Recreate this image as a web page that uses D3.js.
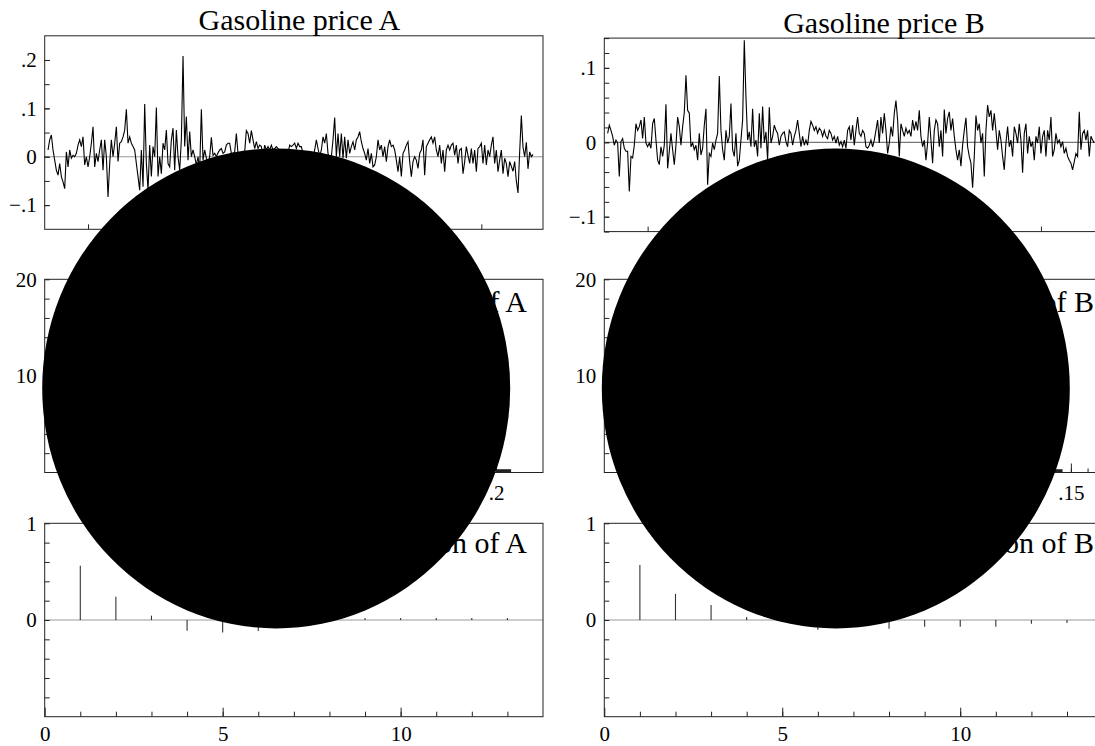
<!DOCTYPE html>
<html lang="en">
  <head>
    <meta charset="utf-8">
    <title>Gasoline prices</title>
    <style>
      body, html { margin:0; padding:0; background:#fff; }
      svg { display:block; }
    </style>
    <script src="https://cdn.jsdelivr.net/npm/d3@7"></script>
  </head>
  <body>
    <div id="chart"></div>
    <script>
// ---- data ----
var priceA = [
  0.014, 0.035, 0.045, 0.014, -0.007, -0.028, -0.038, -0.014, -0.041, -0.052,
  -0.066, 0.010, -0.021, 0.014, -0.003, 0.003, 0, 0.007, 0.024, 0.035,
  0.021, 0.041, -0.017, 0, -0.021, 0, 0.028, 0.062, -0.021, 0.007,
  -0.010, 0.014, 0.035, -0.028, 0.035, 0, -0.083, -0.014, 0.035, 0,
  0.028, 0.062, -0.010, 0.028, 0.031, 0.041, 0.055, 0.098, 0.028, 0.041,
  0.028, 0.021, 0.014, -0.014, -0.041, -0.069, 0.014, -0.062, 0.109, -0.014,
  -0.069, 0.024, -0.041, 0.021, 0, 0.102, -0.041, 0, -0.035, 0.028,
  0.014, 0.055, -0.014, -0.021, 0.035, 0.059, -0.028, 0.055, 0, -0.028,
  0.035, 0.208, 0.021, 0.083, -0.007, 0.052, 0, 0.014, 0, -0.017,
  0, -0.028, 0.098, -0.007, 0.014, -0.003, -0.014, 0, 0.040, 0.003,
  0.007, 0, 0.008, 0.014, 0.017, 0.007, 0.010, 0.024, 0.028, 0.028,
  0.007, 0.007, 0.010, 0.048, 0.007, -0.028, 0.010, 0, 0.010, 0.054,
  0.048, 0.028, 0.054, 0.035, 0.017, 0.031, 0.017, 0.024, 0.021, 0,
  0.024, 0.014, 0.021, 0.014, 0.024, 0.014, 0.017, 0.021,
  0.017, 0.007, 0, -0.007, 0.014, 0, 0.007, 0.024, 0.021, 0.024,
  0.028, 0.017, 0.028, 0.021, 0.021, 0.007, 0, -0.007, 0.007, -0.014,
  0.010, 0, 0.014, 0.035, 0.017, 0, 0.014, 0.041, 0.028, 0.048,
  0.007, -0.010, 0, 0.035, 0.081, 0, 0.048, 0, 0.048, -0.003,
  0.041, -0.003, 0.035, 0.007, 0.021, 0.031, 0.014, 0.035, 0.041, 0.052,
  0.031, 0.017, 0.007, -0.007, 0.017, -0.014, 0.007, -0.021, -0.017, 0,
  0.035, 0.014, 0.024, 0, 0.021, -0.010, 0.021, 0.035, 0.021, 0.024,
  0.014, -0.007, -0.031, 0, -0.041, 0.007, 0.014, 0.024, 0.031, -0.010,
  -0.041, -0.010, 0, -0.007, -0.024, 0.007, 0.014, 0.035, -0.038, 0.021,
  0.028, 0.035, 0.041, 0.028, 0.041, 0.014, 0, 0.024, -0.014, 0.014,
  -0.031, 0.014, 0.024, 0.014, 0.024, 0.028, 0.003, 0.024, -0.014, 0.014,
  0.017, -0.035, -0.010, 0.021, 0.003, -0.014, 0.017, -0.014, 0.014, -0.031,
  0.017, 0.021, 0.028, -0.014, 0.024, -0.017, 0.014, 0, 0.024, 0.041,
  -0.014, 0.014, -0.031, -0.007, 0.014, -0.035, -0.003, -0.014, -0.041, -0.010,
  -0.020, -0.030, -0.010, -0.050, -0.075, 0.010, 0.085, 0.020, 0, 0.030,
  -0.025, 0.010, 0, 0.005
];
var priceB = [
  0.012, 0.023, 0.016, 0.008, -0.004, 0.003, -0.001, -0.046, 0.001, 0.005,
  -0.008, -0.012, -0.012, -0.066, -0.019, -0.021, -0.004, 0.025, 0.016, 0.021,
  0.030, 0.005, 0.034, -0.001, -0.006, -0.001, -0.008, 0.025, 0.032, 0.003,
  -0.024, -0.030, -0.006, -0.019, -0.004, 0.051, -0.035, -0.012, 0.012, -0.010,
  -0.030, -0.004, 0.034, 0.021, -0.004, 0.021, 0.040, 0.090, 0.043, 0.039,
  -0.006, -0.001, -0.010, -0.004, -0.024, 0.012, -0.017, -0.008, 0.023, 0.045,
  -0.057, -0.015, -0.019, -0.001, -0.010, 0.003, 0.012, 0.089, 0.016, -0.010,
  -0.024, 0.016, -0.001, 0.008, 0.052, -0.010, -0.019, 0.012, -0.032, -0.024,
  0.003, 0.030, 0.137, 0.061, 0.003, 0.014, -0.006, 0.045, -0.006, 0.003,
  -0.019, 0.039, -0.008, 0.048, -0.001, 0.014, -0.024, 0.047, -0.001, 0.008,
  0.023, 0.016, 0.012, -0.004, 0.008, 0.012, 0.014, 0.001, -0.006, 0.016,
  0.012, -0.004, 0.008, 0.016, 0.030, 0.012, -0.006, 0.008, -0.004, 0.003,
  -0.004, 0.016, 0.028, 0.023, 0.016, 0.021, 0.012, 0.019, 0.016, 0.008,
  0.016, 0.008, 0.005, 0.016, 0.012, 0.003, 0.008, -0.001,
  0.008, -0.004, 0.001, -0.006, 0.003, -0.008, 0.016, 0.021, 0.003, 0.023,
  -0.004, 0.016, 0.034, 0.012, 0.008, 0.016, 0.012, -0.006, -0.008, -0.004,
  0.003, -0.006, 0.003, 0.016, 0.030, -0.001, 0.034, 0.012, 0.039, 0.016,
  -0.015, -0.001, 0.021, 0.008, 0.039, 0.056, 0.030, -0.019, 0.025, 0.016,
  0.008, 0.019, 0.012, 0.016, 0.008, 0.030, 0.016, 0.028, 0.016, 0.043,
  0.008, -0.006, 0.003, -0.024, -0.001, 0.034, 0.003, -0.028, 0.016, 0.030,
  0.025, -0.006, 0.016, -0.019, 0.044, 0.012, 0.032, 0.041, 0.016, 0.032,
  0.008, -0.010, -0.024, -0.010, -0.032, -0.004, 0.016, 0.033, -0.006, -0.019,
  -0.028, -0.061, -0.019, 0.036, 0.016, 0.025, -0.001, 0.012, -0.046, 0.016,
  0.050, 0.034, 0.043, 0.016, 0.039, 0.016, -0.010, 0.016, 0.003, -0.019,
  -0.037, -0.001, 0.021, -0.006, 0.003, -0.019, 0.021, 0.012, -0.001, 0.025,
  0.003, -0.041, 0.012, 0.025, -0.015, 0.008, -0.006, 0.001, -0.024, 0.008,
  -0.001, 0.021, -0.015, 0.008, 0.016, -0.019, 0.016, 0.003, 0.034, -0.019,
  -0.010, 0.012, -0.001, 0.003, -0.006, 0.001, -0.015, -0.008, -0.019, -0.024,
  -0.028, -0.037, -0.026, -0.015, -0.019, 0.041, -0.010, 0.012, 0.016, 0.003,
  0.016, -0.019, 0.008, 0.003, -0.001
];
var timeTicks = [24, 83, 142, 201, 260];

// histogram bins (left edges, width .01) and densities
var histEdgesA = [-0.09, -0.08, -0.07, -0.06, -0.05, -0.04, -0.03, -0.02, -0.01, 0,
  0.01, 0.02, 0.03, 0.04, 0.05, 0.06, 0.07, 0.08, 0.09, 0.10,
  0.11, 0.12, 0.13, 0.14, 0.15, 0.16, 0.17, 0.18, 0.19, 0.20];
var histA = [0.34, 0.68, 1.03, 1.37, 3.08, 5.48, 8.56, 12.3, 15.4, 17.1,
  13.7, 9.25, 5.82, 3.42, 2.05, 0.68, 0.34, 0.68, 0.34, 0.68,
  0.34, 0, 0, 0, 0, 0, 0, 0, 0, 0.34];
var histEdgesB = [-0.075, -0.065, -0.055, -0.045, -0.035, -0.025, -0.015, -0.005, 0.005, 0.015,
  0.025, 0.035, 0.045, 0.055, 0.065, 0.075, 0.085, 0.095, 0.105, 0.115, 0.125, 0.135];
var histB = [0.34, 0.68, 1.03, 2.4, 4.8, 8.2, 12.7, 16.8, 17.5, 13.4,
  8.9, 5.1, 2.7, 1.4, 0.68, 0.34, 0.34, 0.34, 0, 0, 0, 0.34];

var lags = [1, 2, 3, 4, 5, 6, 7, 8, 9, 10, 11, 12, 13];
var acfA = [0.56, 0.24, 0.045, -0.11, -0.13, -0.115, -0.05, 0.01, 0.02, 0.02, 0.02, 0.02, 0.02];
var acfB = [0.57, 0.27, 0.155, 0.03, -0.02, -0.1, -0.06, -0.09, -0.07, -0.07, -0.07, -0.04, -0.03];

// ---- layout ----
var FONT = '"Liberation Serif","Times New Roman",serif';
var PW = 498.3;
var columns = [
  { left: 44.7, series: priceA, top: [35.8, 229.3], yDomain: [-0.15, 0.25], zeroColor: '#999',
    yMajor: [-0.1, 0, 0.1, 0.2], yMinor: [-0.1, -0.05, 0, 0.05, 0.1, 0.15, 0.2],
    title: 'Gasoline price A', titleX: 299.4, titleY: 29.5,
    hEdges: histEdgesA, hist: histA, hDomain: [-0.1, 0.2312],
    hTicks: [-0.05, 0, 0.05, 0.1, 0.15, 0.2], hMinor: [],
    acf: acfA, innerEnd: 527, histTitle: 'Density of A', acfTitle: 'Autocorrelation of A' },
  { left: 604.3, series: priceB, top: [38.1, 231.6], yDomain: [-0.12, 0.14], zeroColor: '#777',
    yMajor: [-0.1, 0, 0.1], yMinor: d3.range(-12, 15, 2).map(function(v){ return v / 100; }),
    title: 'Gasoline price B', titleX: 884, titleY: 33,
    hEdges: histEdgesB, hist: histB, hDomain: [-0.1294, 0.169],
    hTicks: [-0.1, -0.05, 0, 0.05, 0.1, 0.15], hMinor: d3.range(-12, 17).map(function(v){ return v / 100; }),
    acf: acfB, innerEnd: 1094, histTitle: 'Density of B', acfTitle: 'Autocorrelation of B' }
];
var midRow = [279.3, 472.5];
var lowRow = [523.3, 716.7];

var svg = d3.select('#chart').append('svg').attr('width', 1095).attr('height', 746);
svg.append('rect').attr('width', 1095).attr('height', 746).attr('fill', '#fff');

function fmt(v) {
  if (Math.abs(v) < 1e-9) return '0';
  return (v < 0 ? '\u2212' : '') + d3.format('~g')(Math.abs(v)).replace(/^0\./, '.');
}

function styleAxis(g) {
  g.select('.domain').remove();
  g.selectAll('line').attr('stroke', '#222');
  g.attr('font-size', 21).attr('font-family', FONT);
  g.selectAll('text').attr('fill', '#000');
}

function panel(x, y0, y1) {
  var g = svg.append('g').attr('transform', 'translate(' + x + ',' + y0 + ')');
  g.h = y1 - y0;
  return g;
}

function frame(g) {
  g.append('rect').attr('width', PW).attr('height', g.h)
    .attr('fill', 'none').attr('stroke', '#222').attr('stroke-width', 1);
}

function zeroLine(g, y, color) {
  g.append('line').attr('x1', 0).attr('x2', PW).attr('y1', y(0)).attr('y2', y(0))
    .attr('stroke', color || '#999').attr('stroke-width', 1.2);
}

function yAxis(g, y, minor, major) {
  g.append('g').call(d3.axisLeft(y).tickValues(minor).tickSize(-5).tickFormat('')).call(styleAxis);
  g.append('g').call(d3.axisLeft(y).tickValues(major).tickSize(-5).tickPadding(8).tickFormat(fmt)).call(styleAxis);
}

columns.forEach(function(c) {
  // --- row 1: time series ---
  var g1 = panel(c.left, c.top[0], c.top[1]);
  var xT = d3.scaleLinear().domain([-2, 297]).range([0, PW]);
  var yT = d3.scaleLinear().domain(c.yDomain).range([g1.h, 0]);
  zeroLine(g1, yT, c.zeroColor);
  g1.append('path').datum(c.series)
    .attr('d', d3.line().x(function(d, i){ return xT(i); }).y(function(d){ return yT(d); }))
    .attr('fill', 'none').attr('stroke', '#000').attr('stroke-width', 1.1);
  yAxis(g1, yT, c.yMinor, c.yMajor);
  g1.append('g').attr('transform', 'translate(0,' + g1.h + ')')
    .call(d3.axisBottom(xT).tickValues(timeTicks).tickSize(-5).tickFormat('')).call(styleAxis);
  frame(g1);
  svg.append('text').attr('x', c.titleX).attr('y', c.titleY).attr('text-anchor', 'middle')
    .attr('font-family', FONT).attr('font-size', 30).text(c.title);

  // --- row 2: histogram ---
  var g2 = panel(c.left, midRow[0], midRow[1]);
  var xH = d3.scaleLinear().domain(c.hDomain).range([0, PW]);
  var yH = d3.scaleLinear().domain([0, 20]).range([g2.h, 0]);
  g2.selectAll('rect.bar').data(c.hist).enter().append('rect').attr('class', 'bar')
    .attr('x', function(d, i){ return xH(c.hEdges[i]); })
    .attr('width', function(d, i){ return xH(c.hEdges[i] + 0.01) - xH(c.hEdges[i]); })
    .attr('y', function(d){ return yH(d); })
    .attr('height', function(d){ return yH(0) - yH(d); })
    .attr('fill', '#222');
  yAxis(g2, yH, d3.range(2, 20, 2), [10, 20]);
  g2.append('g').attr('transform', 'translate(0,' + g2.h + ')')
    .call(d3.axisBottom(xH).tickValues(c.hMinor).tickSize(-4).tickFormat('')).call(styleAxis);
  g2.append('g').attr('transform', 'translate(0,' + g2.h + ')')
    .call(d3.axisBottom(xH).tickValues(c.hTicks).tickSize(-9).tickPadding(13).tickFormat(fmt)).call(styleAxis);
  frame(g2);
  svg.append('text').attr('x', c.innerEnd).attr('y', 311.7).attr('text-anchor', 'end')
    .attr('font-family', FONT).attr('font-size', 30).text(c.histTitle);

  // --- row 3: autocorrelations ---
  var g3 = panel(c.left, lowRow[0], lowRow[1]);
  var xL = d3.scaleLinear().domain([0, 14]).range([0, PW]);
  var yL = d3.scaleLinear().domain([-1, 1]).range([g3.h, 0]);
  zeroLine(g3, yL);
  g3.selectAll('line.spike').data(c.acf).enter().append('line').attr('class', 'spike')
    .attr('x1', function(d, i){ return xL(lags[i]); }).attr('x2', function(d, i){ return xL(lags[i]); })
    .attr('y1', yL(0)).attr('y2', function(d){ return yL(d); })
    .attr('stroke', '#333').attr('stroke-width', 1.1);
  yAxis(g3, yL, [-0.8, -0.6, -0.4, -0.2, 0.2, 0.4, 0.6, 0.8], [0, 1]);
  g3.append('g').attr('transform', 'translate(0,' + g3.h + ')')
    .call(d3.axisBottom(xL).tickValues(d3.range(1, 14)).tickSize(-5).tickFormat('')).call(styleAxis);
  g3.append('g').attr('transform', 'translate(0,' + g3.h + ')')
    .call(d3.axisBottom(xL).tickValues([0, 5, 10]).tickSize(-9).tickPadding(9).tickFormat(fmt)).call(styleAxis);
  frame(g3);
  svg.append('text').attr('x', c.innerEnd).attr('y', 553.3).attr('text-anchor', 'end')
    .attr('font-family', FONT).attr('font-size', 30).text(c.acfTitle);

  // --- black disc laid over the column ---
  svg.append('ellipse').attr('cx', c.left + 231.5).attr('cy', 388.4)
    .attr('rx', 234).attr('ry', 240).attr('fill', '#000');
});
    </script>
  </body>
</html>
